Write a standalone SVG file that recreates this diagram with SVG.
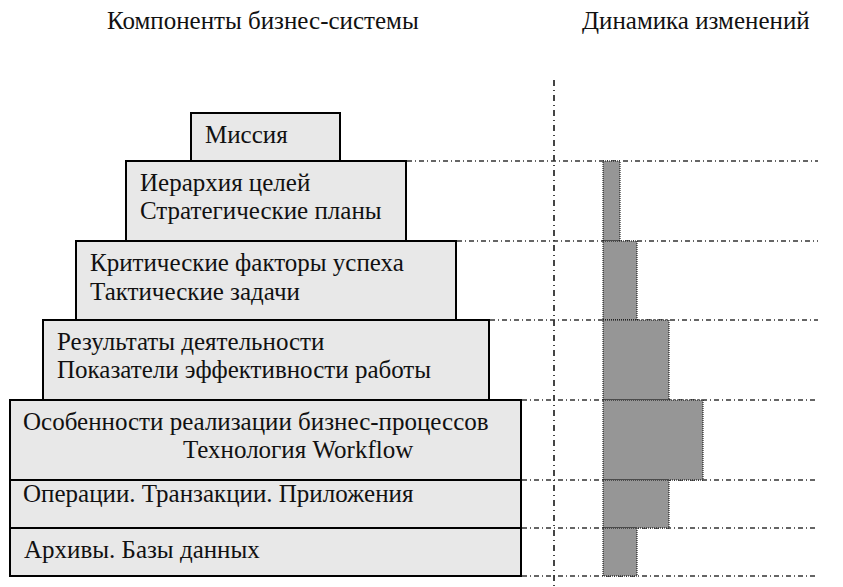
<svg xmlns="http://www.w3.org/2000/svg" width="843" height="587" viewBox="0 0 843 587">
<style>
text{font-family:"Liberation Serif","Times New Roman",serif;fill:#111;font-size:25px}
.box{fill:#e8e8e8;stroke:#000;stroke-width:2}
.h{stroke:#333;stroke-width:1.3;stroke-dasharray:5 3 1 3;fill:none}
.v{stroke:#444;stroke-width:2;stroke-dasharray:6 4 1 4;fill:none}
.bar{fill:#969696;stroke:#000;stroke-width:1;stroke-dasharray:1 1}
</style>
<rect width="843" height="587" fill="#fff"/>
<text x="107" y="29">Компоненты бизнес-системы</text>
<text x="582" y="29">Динамика изменений</text>
<g id="connectors">
<line class="v" x1="554" y1="80" x2="554" y2="587"/>
<line class="h" x1="407" y1="161" x2="818" y2="161"/>
<line class="h" x1="457" y1="241" x2="818" y2="241"/>
<line class="h" x1="490" y1="320" x2="818" y2="320"/>
<line class="h" x1="522" y1="400" x2="818" y2="400"/>
<line class="h" x1="522" y1="480" x2="818" y2="480"/>
<line class="h" x1="522" y1="528" x2="818" y2="528"/>
<line class="h" x1="522" y1="576" x2="818" y2="576"/>
</g>
<g id="bars">
<rect class="bar" x="603" y="161" width="17" height="80"/>
<rect class="bar" x="603" y="241" width="34" height="79"/>
<rect class="bar" x="603" y="320" width="66" height="80"/>
<rect class="bar" x="603" y="400" width="100" height="80"/>
<rect class="bar" x="603" y="480" width="66" height="48"/>
<rect class="bar" x="603" y="528" width="34" height="48"/>
</g>
<g id="n1"><rect class="box" x="191" y="113" width="149" height="48"/><text x="205" y="143">Миссия</text></g>
<g id="n2"><rect class="box" x="126" y="161" width="280" height="80"/><text x="140" y="191">Иерархия целей</text><text x="140" y="219">Стратегические планы</text></g>
<g id="n3"><rect class="box" x="76" y="241" width="380" height="79"/><text x="90" y="271">Критические факторы успеха</text><text x="90" y="300">Тактические задачи</text></g>
<g id="n4"><rect class="box" x="43" y="320" width="446" height="80"/><text x="57" y="350">Результаты деятельности</text><text x="57" y="378">Показатели эффективности работы</text></g>
<g id="n5"><rect class="box" x="10" y="400" width="511" height="80"/><text x="23" y="430">Особенности реализации бизнес-процессов</text><text x="183" y="458">Технология Workflow</text></g>
<g id="n6"><rect class="box" x="10" y="480" width="511" height="48"/><text x="23" y="502">Операции. Транзакции. Приложения</text></g>
<g id="n7"><rect class="box" x="10" y="528" width="511" height="48"/><text x="24" y="558">Архивы. Базы данных</text></g>
</svg>
